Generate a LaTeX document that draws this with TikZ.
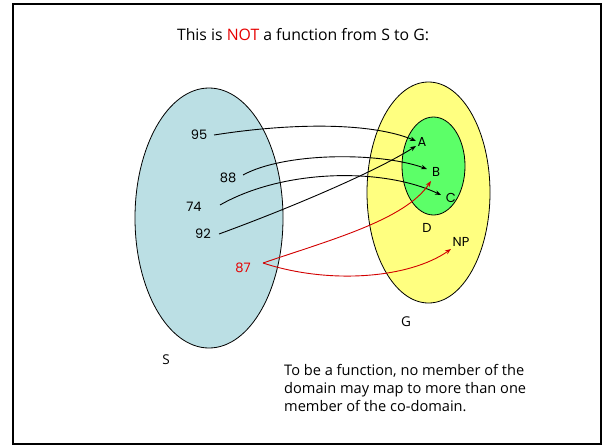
\documentclass[tikz,border=0pt]{standalone}
\usepackage{fontspec}
\setmainfont{Open Sans}
\newfontfamily\geo{Poppins}
\usetikzlibrary{arrows.meta}
\definecolor{sblue}{RGB}{187,223,228}
\definecolor{gyellow}{RGB}{255,255,128}
\definecolor{dgreen}{RGB}{92,255,104}
\definecolor{nred}{RGB}{230,0,0}
\definecolor{ared}{RGB}{210,0,0}
\tikzset{
  setell/.style={draw=black, line width=0.8pt},
  elt/.style={font=\geo\fontsize{13}{15}\selectfont, inner sep=1pt},
  captext/.style={font=\fontsize{13.5}{15}\selectfont, inner sep=0pt},
  maparrow/.style={line width=0.9pt, -{Stealth[length=6pt,width=4.5pt]}},
  redarrow/.style={maparrow, draw=ared},
}
\begin{document}
\begin{tikzpicture}[x=1pt,y=-1pt]
\useasboundingbox (0,0) rectangle (604,445);
\draw[line width=2.6pt] (13,4) rectangle (601,444);
\node[captext, font=\fontsize{15.8}{18}\selectfont] (title) at (303,35) {This is \textcolor{nred}{NOT} a function from S to G:};
% sets
\draw[setell, fill=sblue] (209,218) ellipse [x radius=74, y radius=130];
\draw[setell, fill=gyellow] (428.5,192.5) ellipse [x radius=61.5, y radius=110.5];
\draw[setell, fill=dgreen] (433.5,166) ellipse [x radius=31.5, y radius=49];
% domain elements
\node[elt] (n95) at (199,135) {95};
\node[elt] (n88) at (228,178) {88};
\node[elt] (n74) at (194,207) {74};
\node[elt] (n92) at (203,234) {92};
\node[elt, text=nred] (n87) at (243,268) {87};
% codomain elements
\node[elt] (A) at (422,142) {A};
\node[elt] (B) at (436,172) {B};
\node[elt] (C) at (451,198) {C};
\node[elt] (D) at (427,228) {D};
\node[elt] (NP) at (461,242) {NP};
\node[captext] (G) at (406,322) {G};
\node[captext] (S) at (166,360) {S};
% arrows
\coordinate (s95) at (214,135);
\coordinate (s88) at (243,175);
\coordinate (s74) at (220,205);
\coordinate (s92) at (219,234);
\coordinate (s87) at (263,263);
\coordinate (eA1) at (416,141);
\coordinate (eA2) at (416,146);
\coordinate (eB) at (427,169);
\coordinate (eC) at (441,195);
\coordinate (eB2) at (431,181);
\coordinate (eNP) at (451,249);
\draw[maparrow] (s95) .. controls (290,123) and (370,122) .. (eA1);
\draw[maparrow] (s88) .. controls (285,152) and (380,152) .. (eB);
\draw[maparrow] (s74) .. controls (285,168) and (385,168) .. (eC);
\draw[maparrow] (s92) .. controls (290,208) and (375,172) .. (eA2);
\draw[redarrow] (s87) .. controls (330,240) and (405,220) .. (eB2);
\draw[redarrow] (s87) .. controls (330,285) and (410,278) .. (eNP);
% note
\node[captext, anchor=north west, align=left, font=\fontsize{14.6}{18}\selectfont] (note) at (284,364.5)
  {To be a function, no member of the\\domain may map to more than one\\member of the co-domain.};
\end{tikzpicture}
\end{document}
